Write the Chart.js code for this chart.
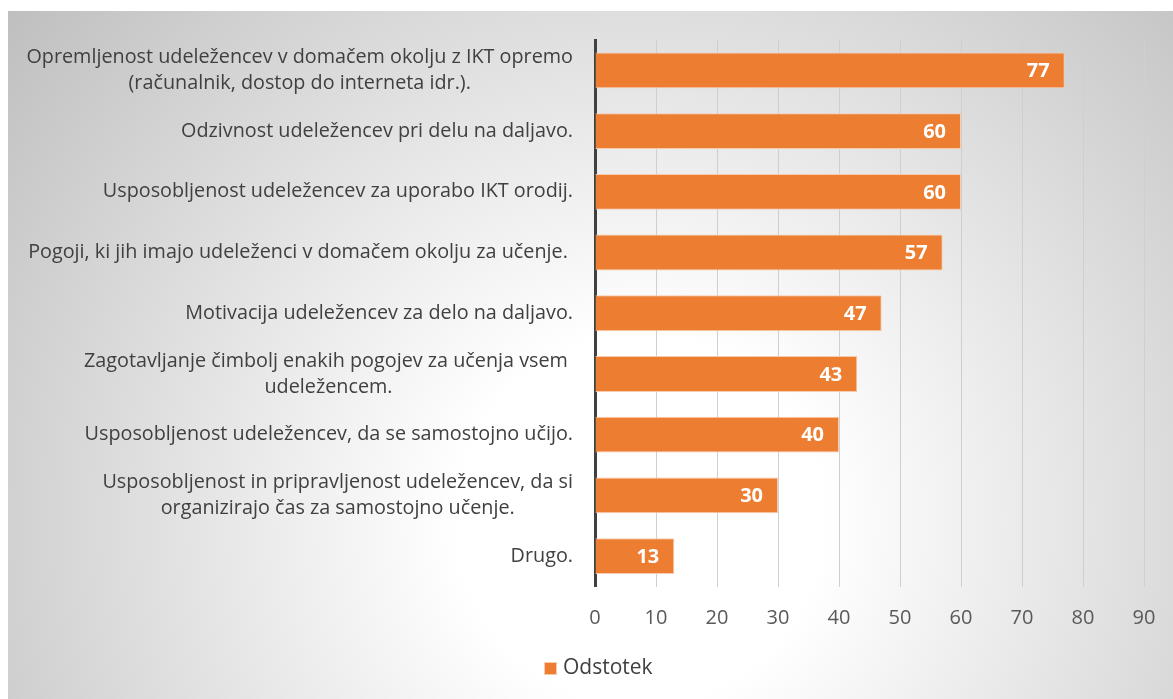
<!DOCTYPE html>
<html>
<head>
<meta charset="utf-8">
<script src="https://cdn.jsdelivr.net/npm/chart.js"></script>
<style>
  html, body { margin: 0; padding: 0; background: #fff; overflow: hidden; }
</style>
</head>
<body>
<canvas id="grafico" width="1173" height="699"></canvas>
<script>
// podatki
const kategorije = [
  ['Opremljenost udeležencev v domačem okolju z IKT opremo', '(računalnik, dostop do interneta idr.).'],
  ['Odzivnost udeležencev pri delu na daljavo.'],
  ['Usposobljenost udeležencev za uporabo IKT orodij.'],
  ['Pogoji, ki jih imajo udeleženci v domačem okolju za učenje. '],
  ['Motivacija udeležencev za delo na daljavo.'],
  ['Zagotavljanje čimbolj enakih pogojev za učenja vsem ', 'udeležencem.'],
  ['Usposobljenost udeležencev, da se samostojno učijo.'],
  ['Usposobljenost in pripravljenost udeležencev, da si', 'organizirajo čas za samostojno učenje.'],
  ['Drugo.']
];
const odstotki = [77, 60, 60, 57, 47, 43, 40, 30, 13];
const oznakeX = [0, 10, 20, 30, 40, 50, 60, 70, 80, 90];
const imeSerije = 'Odstotek';

const oranzna = '#ED7D31';
const pisava = '"Open Sans", Lato, sans-serif';

// ozadje z gradientom
const ozadje = {
  id: 'ozadje',
  beforeDraw(chart) {
    const c = chart.ctx;
    c.save();
    c.fillStyle = '#fff';
    c.fillRect(0, 0, chart.width, chart.height);
    const g = c.createRadialGradient(640, 520, 0, 640, 520, 830);
    g.addColorStop(0, '#ffffff');
    g.addColorStop(0.22, '#ffffff');
    g.addColorStop(1, '#bdbdbd');
    c.fillStyle = g;
    c.fillRect(8, 11, chart.width - 8, chart.height - 11);
    c.restore();
  }
};

// oznake kategorij (vrstice centrirane v bloku, blok poravnan desno)
const oznakeY = {
  id: 'oznakeY',
  afterDraw(chart) {
    const c = chart.ctx;
    const y = chart.scales.y;
    const desno = y.right - 22;
    c.save();
    c.font = '19.8px ' + pisava;
    c.fillStyle = '#404040';
    c.textBaseline = 'middle';
    c.textAlign = 'left';
    kategorije.forEach(function (vrstice, i) {
      const sirina = Math.max.apply(null, vrstice.map(v => c.measureText(v).width));
      const sx = desno - sirina / 2;
      const py = y.getPixelForValue(i);
      const lh = 26;
      vrstice.forEach(function (v, j) {
        const w = c.measureText(v).width;
        c.fillText(v, sx - w / 2, py + (j - (vrstice.length - 1) / 2) * lh);
      });
    });
    c.restore();
  }
};

// vrednosti v stolpcih
const vrednosti = {
  id: 'vrednosti',
  afterDatasetsDraw(chart) {
    const c = chart.ctx;
    const meta = chart.getDatasetMeta(0);
    c.save();
    c.font = 'bold 20px ' + pisava;
    c.fillStyle = '#ffffff';
    c.textAlign = 'right';
    c.textBaseline = 'middle';
    meta.data.forEach(function (bar, i) {
      c.fillText(odstotki[i], bar.x - 15, bar.y + 1);
    });
    c.restore();
  }
};

// legenda
const legenda = {
  id: 'legenda',
  afterDraw(chart) {
    const c = chart.ctx;
    c.save();
    c.font = '21px ' + pisava;
    const tw = c.measureText(imeSerije).width;
    const skupaj = 13 + 6 + tw;
    const cx = (8 + chart.width) / 2 + 8;
    const x0 = Math.round(cx - skupaj / 2);
    const yc = 668;
    c.fillStyle = oranzna;
    c.fillRect(x0, yc - 6, 13, 13);
    c.strokeStyle = '#f8cbad';
    c.lineWidth = 1;
    c.strokeRect(x0 + 0.5, yc - 5.5, 12, 12);
    c.fillStyle = '#404040';
    c.textAlign = 'left';
    c.textBaseline = 'middle';
    c.fillText(imeSerije, x0 + 19, yc);
    c.restore();
  }
};

new Chart(document.getElementById('grafico'), {
  type: 'bar',
  data: {
    labels: kategorije,
    datasets: [{
      label: imeSerije,
      data: odstotki,
      backgroundColor: oranzna,
      borderColor: '#f8cbad',
      borderWidth: 1,
      barPercentage: 0.59,
      categoryPercentage: 1
    }]
  },
  options: {
    indexAxis: 'y',
    responsive: false,
    animation: false,
    layout: { padding: { top: 40, right: 29, bottom: 0, left: 0 } },
    plugins: {
      legend: { display: false },
      tooltip: { enabled: false }
    },
    scales: {
      x: {
        min: 0,
        max: 90,
        afterBuildTicks(s) { s.ticks = oznakeX.map(v => ({ value: v })); },
        afterFit(s) {
          s.height = 112.5;
          s.paddingLeft = 0;
          s.paddingRight = 0;
        },
        ticks: {
          font: { family: pisava, size: 20 },
          color: '#595959',
          padding: 20
        },
        grid: { color: '#cfcfcf', lineWidth: 1, drawTicks: false },
        border: { display: false }
      },
      y: {
        afterFit(s) { s.width = 595; },
        ticks: { display: false },
        grid: { display: false },
        border: { display: true, color: '#404040', width: 3 }
      }
    }
  },
  plugins: [ozadje, oznakeY, vrednosti, legenda]
});
</script>
</body>
</html>
